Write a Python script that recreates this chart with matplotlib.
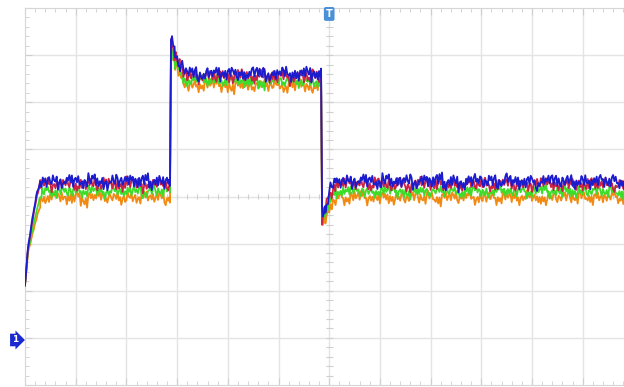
import matplotlib.pyplot as plt
import numpy as np

# screen: 12 horizontal divisions (last one cut off), 8 vertical divisions
# key points of each trace, (time in div, level in div from bottom)
blue_t = [0.0, 0.06, 0.16, 0.24, 0.30, 2.86, 2.88, 2.96, 3.06, 3.20, 5.84, 5.86, 5.92, 6.00, 6.12, 11.85]
blue_v = [2.12, 2.93, 3.61, 4.10, 4.31, 4.31, 7.32, 7.00, 6.80, 6.60, 6.58, 3.61, 3.75, 4.10, 4.31, 4.31]

red_t = blue_t
red_v = [2.12, 2.90, 3.56, 4.04, 4.25, 4.25, 7.25, 6.95, 6.74, 6.55, 6.53, 3.55, 3.70, 4.04, 4.25, 4.25]

green_t = [0.0, 0.06, 0.18, 0.28, 0.34, 2.86, 2.88, 2.96, 3.06, 3.20, 5.84, 5.86, 5.92, 6.02, 6.14, 11.85]
green_v = [2.12, 2.85, 3.45, 3.92, 4.10, 4.10, 7.15, 6.85, 6.62, 6.45, 6.43, 3.48, 3.62, 3.92, 4.10, 4.10]

orange_t = [0.0, 0.06, 0.18, 0.30, 0.36, 2.86, 2.88, 2.96, 3.06, 3.20, 5.84, 5.86, 5.92, 6.04, 6.16, 11.85]
orange_v = [2.12, 2.80, 3.35, 3.80, 3.97, 3.97, 7.05, 6.75, 6.52, 6.36, 6.34, 3.38, 3.52, 3.80, 3.97, 3.97]

# noise (div)
jitter = [0.05, -0.08, 0.11, -0.02, 0.09, -0.12, 0.03, 0.13, -0.06, 0.01,
          -0.10, 0.07, 0.12, -0.04, -0.11, 0.06, 0.02, -0.07, 0.10, -0.01,
          0.08, -0.13, 0.04, 0.11, -0.05, -0.09, 0.12, 0.00, -0.03, 0.09,
          -0.12, 0.06, 0.13, -0.08, 0.02, 0.07, -0.10, 0.04, -0.02, 0.11,
          -0.06, 0.10, -0.14, 0.05, 0.08, -0.03, 0.12, -0.09, 0.01, 0.06,
          -0.11, 0.09, 0.03, -0.07, 0.13, -0.04, -0.12, 0.07, 0.00, 0.10,
          -0.05, 0.11, -0.08, 0.04, -0.01, 0.12, -0.10, 0.06, 0.09, -0.13,
          0.02, 0.08, -0.06, 0.11, -0.03, -0.09, 0.13, 0.05, -0.11, 0.03,
          0.10, -0.07, 0.01, 0.12, -0.04, 0.07, -0.12, 0.09, -0.02, 0.06,
          -0.08, 0.11, 0.04, -0.10, 0.13, -0.05, 0.02, 0.08, -0.13, 0.10,
          -0.03, 0.14, -0.09, 0.06, -0.15, 0.04, 0.10, -0.02, 0.08, -0.11,
          0.12, 0.01, -0.07, 0.09, -0.16, 0.05, 0.11, -0.04, 0.07, -0.09]

traces = [
    (orange_t, orange_v, '#f28a12', 61, 1.0),
    (green_t, green_v, '#3ddc2a', 37, 0.9),
    (red_t, red_v, '#cc2244', 17, 1.0),
    (blue_t, blue_v, '#1c1ccf', 0, 1.1),
]

fig = plt.figure(figsize=(6.24, 3.87), dpi=100)
ax = fig.add_axes([25 / 624, 2 / 387, 1 - 25 / 624, 377 / 387])

grid_c = '#e4e4e4'
for x in range(1, 12):
    ax.axvline(x, color=grid_c, lw=1, zorder=0)
for y in range(1, 8):
    ax.axhline(y, color=grid_c, lw=1, zorder=0)

# crosshair minor ticks
mx = np.arange(0, 12.01, 0.2)
my = np.arange(0, 8.01, 0.2)
ax.vlines(mx, 4 - 0.06, 4 + 0.06, color='#cfcfcf', lw=0.8, zorder=0)
ax.hlines(my, 6 - 0.07, 6 + 0.07, color='#cfcfcf', lw=0.8, zorder=0)

for s in ['left', 'top', 'bottom']:
    ax.spines[s].set_color('#d6d6d6')
ax.spines['right'].set_visible(False)
ax.set_xticks(np.arange(0, 12, 1))
ax.set_yticks(np.arange(0, 9, 1))
ax.set_xticks(mx, minor=True)
ax.set_yticks(my, minor=True)
ax.tick_params(which='both', direction='in', colors='#cfcfcf', top=True,
               labelbottom=False, labelleft=False)
ax.tick_params(which='major', length=5)
ax.tick_params(which='minor', length=3)

for kt, kv, col, off, amp in traces:
    t = np.union1d(np.arange(0, 11.85, 0.025), kt)
    base = np.interp(t, kt, kv)
    fast = np.resize(np.roll(jitter, -off), len(t))
    slow = np.resize(np.repeat(np.roll(jitter, -off - 45), 6), len(t))
    scale = np.where(t < 0.3, 0.2, amp)
    ax.plot(t, base + (0.8 * fast + 0.5 * slow) * scale, color=col, lw=1.3, zorder=3)

ax.set_xlim(0, 599 / 50.7)
ax.set_ylim(0, 8)

# trigger marker
ax.text(6.0, 7.98, 'T', color='white', fontsize=7, fontweight='bold',
        ha='center', va='top', clip_on=False, zorder=5,
        bbox=dict(boxstyle='round,pad=0.2', fc='#4a90d9', ec='none'))

# channel 1 ground marker
fig.text(15 / 624, 1 - 340 / 387, '1', color='white', fontsize=6.5, fontweight='bold',
         ha='center', va='center',
         bbox=dict(boxstyle='rarrow,pad=0.2', fc='#1a2ad0', ec='none'))

fig.savefig('out.png', dpi=100)
